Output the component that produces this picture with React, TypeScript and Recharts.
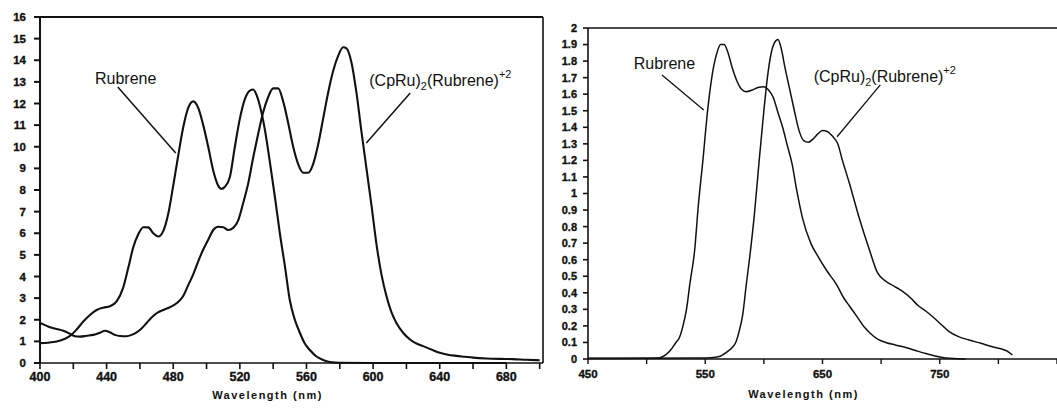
import React from 'react';
import { LineChart, Line, XAxis, YAxis, ReferenceLine, ReferenceDot } from 'recharts';

type Pt = [number, number];

const FONT = '"Liberation Sans", Arial, Helvetica, sans-serif';
const INK = '#111';

// ---- left panel: 400-700 nm, 0-16 ----
const leftRubrene: Pt[] = [
  [400, 0.92], [405, 0.94], [410, 0.99], [415, 1.12], [418, 1.25], [422, 1.55], [426, 1.92],
  [430, 2.22], [434, 2.45], [438, 2.56], [442, 2.62], [446, 2.85], [450, 3.5], [453, 4.4],
  [456, 5.35], [459, 5.95], [462, 6.28], [465, 6.27], [468, 6.0], [471, 5.85], [474, 6.1],
  [477, 6.9], [480, 8.2], [483, 9.6], [486, 10.9], [489, 11.8], [492, 12.1], [495, 11.8],
  [498, 11.0], [501, 10.0], [504, 8.9], [507, 8.2], [509, 8.05], [511, 8.15], [514, 8.6],
  [517, 10.0], [520, 11.3], [523, 12.2], [526, 12.6], [528, 12.65], [530, 12.4], [532, 11.9],
  [535, 10.8], [538, 9.3], [541, 7.7], [544, 6.0], [547, 4.5], [550, 2.9], [553, 2.0],
  [556, 1.4], [559, 0.9], [562, 0.6], [566, 0.3], [570, 0.14], [574, 0.05], [580, 0.01],
  [600, 0], [640, 0], [680, 0],
];

const leftCpRu: Pt[] = [
  [400, 1.85], [403, 1.75], [406, 1.65], [410, 1.57], [414, 1.49], [418, 1.35], [421, 1.24],
  [424, 1.22], [428, 1.26], [432, 1.3], [436, 1.4], [439, 1.49], [442, 1.42], [445, 1.3],
  [448, 1.25], [452, 1.24], [455, 1.3], [458, 1.42], [461, 1.6], [464, 1.85], [467, 2.1],
  [470, 2.3], [474, 2.45], [478, 2.58], [482, 2.76], [486, 3.1], [489, 3.6], [492, 4.1],
  [495, 4.7], [498, 5.25], [501, 5.7], [504, 6.15], [507, 6.3], [510, 6.28], [513, 6.15],
  [516, 6.25], [519, 6.6], [522, 7.4], [525, 8.3], [528, 9.5], [531, 10.6], [534, 11.6],
  [537, 12.3], [540, 12.7], [543, 12.7], [546, 12.1], [549, 11.1], [552, 10.0], [555, 9.2],
  [558, 8.8], [561, 8.8], [564, 9.2], [567, 10.1], [570, 11.3], [573, 12.5], [576, 13.5],
  [579, 14.2], [582, 14.6], [584, 14.55], [587, 13.9], [590, 12.5], [593, 10.7], [596, 9.0],
  [599, 7.3], [602, 5.5], [605, 4.1], [608, 3.1], [611, 2.35], [614, 1.85], [618, 1.4],
  [622, 1.1], [626, 0.9], [630, 0.78], [635, 0.62], [640, 0.47], [645, 0.38], [650, 0.33],
  [655, 0.29], [660, 0.25], [668, 0.21], [676, 0.19], [684, 0.18], [692, 0.15], [700, 0.13],
];

const leftXTicks = [400, 420, 440, 460, 480, 500, 520, 540, 560, 580, 600, 620, 640, 660, 680, 700];
const leftYTicks = [0, 1, 2, 3, 4, 5, 6, 7, 8, 9, 10, 11, 12, 13, 14, 15, 16];

// ---- right panel: 450-850 nm, 0-2 ----
const rightRubrene: Pt[] = [
  [450, 0.005], [480, 0.005], [500, 0.004], [510, 0.006], [514, 0.015], [520, 0.05],
  [525, 0.1], [528, 0.13], [531, 0.2], [534, 0.3], [537, 0.46], [541, 0.66], [544, 0.92],
  [548, 1.2], [552, 1.5], [556, 1.72], [560, 1.85], [563, 1.9], [566, 1.9], [569, 1.86],
  [573, 1.76], [577, 1.68], [581, 1.63], [585, 1.615], [590, 1.625], [595, 1.64], [600, 1.645],
  [604, 1.625], [608, 1.58], [612, 1.49], [616, 1.4], [620, 1.29], [624, 1.18], [628, 1.02],
  [633, 0.85], [640, 0.7], [647, 0.61], [654, 0.53], [662, 0.45], [668, 0.37], [673, 0.32],
  [680, 0.25], [686, 0.19], [690, 0.16], [697, 0.12], [704, 0.1], [712, 0.085], [721, 0.07],
  [730, 0.05], [738, 0.033], [746, 0.018], [755, 0.006], [765, 0.002], [772, 0],
];

const rightCpRu: Pt[] = [
  [450, 0.003], [500, 0.004], [540, 0.006], [555, 0.008], [562, 0.015], [568, 0.04],
  [573, 0.07], [576, 0.1], [579, 0.17], [582, 0.27], [585, 0.45], [588, 0.62], [592, 0.88],
  [596, 1.2], [600, 1.5], [603, 1.7], [606, 1.84], [609, 1.91], [612, 1.93], [615, 1.87],
  [618, 1.76], [622, 1.63], [626, 1.5], [630, 1.38], [634, 1.32], [638, 1.31], [642, 1.33],
  [646, 1.36], [650, 1.38], [654, 1.375], [658, 1.35], [663, 1.3], [667, 1.2], [673, 1.06],
  [681, 0.86], [690, 0.66], [697, 0.52], [704, 0.47], [711, 0.44], [718, 0.41], [725, 0.37],
  [732, 0.32], [738, 0.29], [744, 0.255], [751, 0.21], [758, 0.165], [766, 0.135], [775, 0.115],
  [785, 0.095], [795, 0.074], [803, 0.06], [807, 0.05], [812, 0.024],
];

const rightXTicks = [450, 500, 550, 600, 650, 700, 750, 800, 850];
const rightXLabels = [450, 550, 650, 750];
const rightYTicks = [0, 0.1, 0.2, 0.3, 0.4, 0.5, 0.6, 0.7, 0.8, 0.9, 1, 1.1, 1.2, 1.3, 1.4, 1.5, 1.6, 1.7, 1.8, 1.9, 2];

const toRows = (pts: Pt[]) => pts.map(([nm, v]) => ({ nm, v }));

const tickStyle = (size: number) => ({
  fontSize: size,
  fontWeight: 700,
  fill: INK,
  stroke: INK,
  strokeWidth: 0.35,
  fontFamily: FONT,
});

const CpRuText = ({ cx, cy, size }: { cx: number; cy: number; size: number }) => {
  const small = size * 0.68;
  return (
    <text x={cx} y={cy} fontSize={size} fontFamily={FONT} fill={INK}>
      (CpRu)
      <tspan fontSize={small} dy={4}>2</tspan>
      <tspan fontSize={size} dy={-4}>(Rubrene)</tspan>
      <tspan fontSize={small} dy={-8}>+2</tspan>
    </text>
  );
};

const PlainText = ({ cx, cy, size, value }: { cx: number; cy: number; size: number; value: string }) => (
  <text x={cx} y={cy} fontSize={size} fontFamily={FONT} fill={INK}>
    {value}
  </text>
);

const axisTitle = (shift: number, drop: number) => (props: any) => {
  const vb = props.viewBox || {};
  return (
    <text
      x={vb.x + vb.width / 2 + shift}
      y={vb.y + drop}
      textAnchor="middle"
      fontSize={11}
      fontWeight="bold"
      letterSpacing={1.5}
      fontFamily={FONT}
      fill={INK}
    >
      Wavelength (nm)
    </text>
  );
};

function LeftPanel() {
  return (
    <LineChart width={548} height={409} margin={{ top: 17, right: 5, bottom: 16, left: 0 }}>
      <XAxis
        type="number"
        dataKey="nm"
        domain={[400, 702]}
        ticks={leftXTicks}
        interval={0}
        allowDataOverflow
        tickFormatter={(v: number) => (v % 40 === 0 && v < 700 ? String(v) : '')}
        tick={tickStyle(12.5)}
        tickSize={6}
        tickMargin={3}
        stroke={INK}
        strokeWidth={1.6}
        height={30}
        label={{ content: axisTitle(-24, 36) }}
      />
      <YAxis
        type="number"
        domain={[0, 16]}
        ticks={leftYTicks}
        interval={0}
        width={40}
        tick={tickStyle(11.5)}
        tickSize={6}
        tickMargin={8}
        stroke={INK}
        strokeWidth={2}
      />
      <ReferenceLine y={16} stroke={INK} strokeWidth={2} ifOverflow="visible" />
      <ReferenceLine x={702} stroke={INK} strokeWidth={1.6} ifOverflow="visible" />
      <Line data={toRows(leftRubrene)} dataKey="v" type="monotone" stroke={INK} strokeWidth={2.1}
        dot={false} isAnimationActive={false} />
      <Line data={toRows(leftCpRu)} dataKey="v" type="monotone" stroke={INK} strokeWidth={2.1}
        dot={false} isAnimationActive={false} />
      <ReferenceLine segment={[{ x: 446.7, y: 12.76 }, { x: 481.5, y: 9.71 }]} stroke={INK}
        strokeWidth={1.5} ifOverflow="visible" />
      <ReferenceLine segment={[{ x: 622.3, y: 12.49 }, { x: 595.9, y: 10.17 }]} stroke={INK}
        strokeWidth={1.5} ifOverflow="visible" />
      <ReferenceDot x={433} y={12.9} r={0} ifOverflow="visible"
        shape={(p: any) => <PlainText cx={p.cx} cy={p.cy} size={16} value="Rubrene" />} />
      <ReferenceDot x={597.7} y={12.8} r={0} ifOverflow="visible"
        shape={(p: any) => <CpRuText cx={p.cx} cy={p.cy} size={16} />} />
    </LineChart>
  );
}

function RightPanel() {
  return (
    <LineChart width={509} height={409} margin={{ top: 28, right: 0, bottom: 20, left: 0 }}>
      <XAxis
        type="number"
        dataKey="nm"
        domain={[450, 850]}
        ticks={rightXTicks}
        interval={0}
        allowDataOverflow
        tickFormatter={(v: number) => (rightXLabels.includes(v) ? String(v) : '')}
        tick={tickStyle(11.5)}
        tickSize={5}
        tickMargin={6}
        stroke={INK}
        strokeWidth={1.4}
        height={30}
        label={{ content: axisTitle(-19, 39) }}
      />
      <YAxis
        type="number"
        domain={[0, 2]}
        ticks={rightYTicks}
        interval={0}
        width={40}
        tickFormatter={(v: number) => String(+v.toFixed(1))}
        tick={tickStyle(11)}
        tickSize={5}
        tickMargin={6}
        stroke={INK}
        strokeWidth={1.6}
      />
      <ReferenceLine y={2} stroke={INK} strokeWidth={1.6} ifOverflow="visible" />
      <Line data={toRows(rightRubrene)} dataKey="v" type="monotone" stroke={INK} strokeWidth={1.5}
        dot={false} isAnimationActive={false} />
      <Line data={toRows(rightCpRu)} dataKey="v" type="monotone" stroke={INK} strokeWidth={1.5}
        dot={false} isAnimationActive={false} />
      <ReferenceLine segment={[{ x: 513.1, y: 1.716 }, { x: 548.7, y: 1.505 }]} stroke={INK}
        strokeWidth={1.3} ifOverflow="visible" />
      <ReferenceLine segment={[{ x: 699.3, y: 1.656 }, { x: 662.4, y: 1.343 }]} stroke={INK}
        strokeWidth={1.3} ifOverflow="visible" />
      <ReferenceDot x={489} y={1.752} r={0} ifOverflow="visible"
        shape={(p: any) => <PlainText cx={p.cx} cy={p.cy} size={16} value="Rubrene" />} />
      <ReferenceDot x={642.5} y={1.676} r={0} ifOverflow="visible"
        shape={(p: any) => <CpRuText cx={p.cx} cy={p.cy} size={16} />} />
    </LineChart>
  );
}

export default function App() {
  return (
    <div style={{ position: 'absolute', left: 0, top: 0, width: 1057, height: 409, background: '#fff', overflow: 'hidden' }}>
      <div style={{ position: 'absolute', left: 0, top: 0 }}>
        <LeftPanel />
      </div>
      <div style={{ position: 'absolute', left: 548, top: 0 }}>
        <RightPanel />
      </div>
    </div>
  );
}
